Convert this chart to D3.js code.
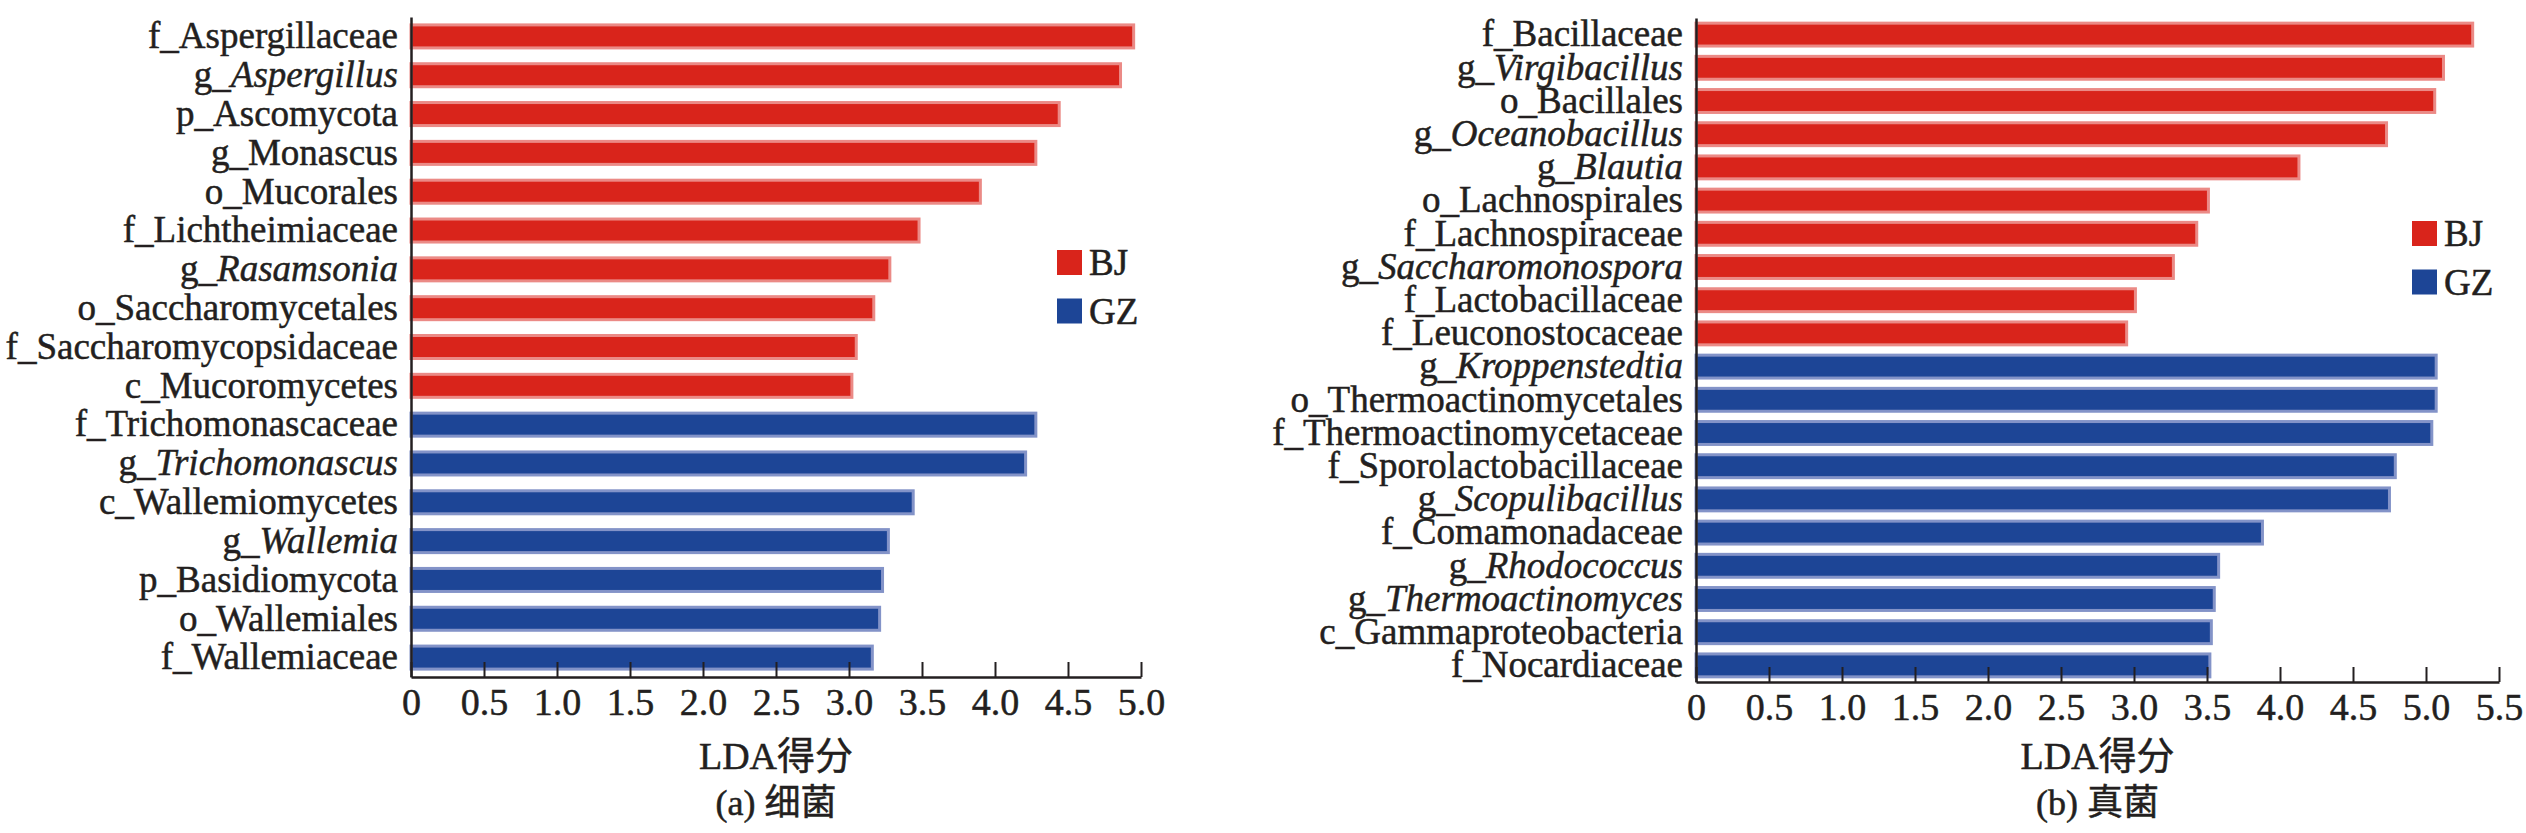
<!DOCTYPE html>
<html>
<head>
<meta charset="utf-8">
<script src="https://cdn.jsdelivr.net/npm/d3@7/dist/d3.min.js"></script>
<style>
  html, body { margin: 0; padding: 0; background: #fff; }
  svg { display: block; }
  svg text { font-family: 'Liberation Serif', 'Tinos', 'Times New Roman', 'DejaVu Serif', 'Noto Sans CJK SC', serif; fill: #231f20; }
</style>
</head>
<body>
<svg id="chart" width="2526" height="833"></svg>
<script>
// ---- Data ----
// Panel (a)
const catsA = ["f_Aspergillaceae","g_Aspergillus","p_Ascomycota","g_Monascus","o_Mucorales","f_Lichtheimiaceae","g_Rasamsonia","o_Saccharomycetales","f_Saccharomycopsidaceae","c_Mucoromycetes","f_Trichomonascaceae","g_Trichomonascus","c_Wallemiomycetes","g_Wallemia","p_Basidiomycota","o_Wallemiales","f_Wallemiaceae"];
const valsA = [4.96, 4.87, 4.45, 4.29, 3.91, 3.49, 3.29, 3.18, 3.06, 3.03, 4.29, 4.22, 3.45, 3.28, 3.24, 3.22, 3.17];
const groupA = ["BJ","BJ","BJ","BJ","BJ","BJ","BJ","BJ","BJ","BJ","GZ","GZ","GZ","GZ","GZ","GZ","GZ"];
const italicA = [false,true,false,false,false,false,true,false,false,false,false,true,false,true,false,false,false];
const ticksA = [0,0.5,1.0,1.5,2.0,2.5,3.0,3.5,4.0,4.5,5.0];

// Panel (b)
const catsB = ["f_Bacillaceae","g_Virgibacillus","o_Bacillales","g_Oceanobacillus","g_Blautia","o_Lachnospirales","f_Lachnospiraceae","g_Saccharomonospora","f_Lactobacillaceae","f_Leuconostocaceae","g_Kroppenstedtia","o_Thermoactinomycetales","f_Thermoactinomycetaceae","f_Sporolactobacillaceae","g_Scopulibacillus","f_Comamonadaceae","g_Rhodococcus","g_Thermoactinomyces","c_Gammaproteobacteria","f_Nocardiaceae"];
const valsB = [5.33, 5.13, 5.07, 4.74, 4.14, 3.52, 3.44, 3.28, 3.02, 2.96, 5.08, 5.08, 5.05, 4.80, 4.76, 3.89, 3.59, 3.56, 3.54, 3.53];
const groupB = ["BJ","BJ","BJ","BJ","BJ","BJ","BJ","BJ","BJ","BJ","GZ","GZ","GZ","GZ","GZ","GZ","GZ","GZ","GZ","GZ"];
const italicB = [false,true,false,true,true,false,false,true,false,false,true,false,false,false,true,false,true,true,false,false];
const ticksB = [0,0.5,1.0,1.5,2.0,2.5,3.0,3.5,4.0,4.5,5.0,5.5];

const groups = ["BJ","GZ"];
const axisTitle = "LDA得分";
const subTitleA = "(a) 细菌";
const subTitleB = "(b) 真菌";

// ---- Styles ----
const FONT = "'Liberation Serif', 'Tinos', 'Times New Roman', 'DejaVu Serif', 'Noto Sans CJK SC', serif";
const INK = "#231f20";
const fillColor = d3.scaleOrdinal().domain(groups).range(["#d9241b", "#1d4596"]);
const edgeColor = d3.scaleOrdinal().domain(groups).range(["#eb8a86", "#8393c8"]);

const svg = d3.select("#chart");

function ink(sel) {
  return sel.style("font-family", FONT).attr("fill", INK)
    .attr("stroke", INK).attr("stroke-width", 0.5);
}

function panel(cfg) {
  const g = svg.append("g");
  const x = d3.scaleLinear().domain(cfg.xDomain).range([cfg.x0, cfg.x1]);
  const y = d3.scaleBand().domain(cfg.cats).range([cfg.y0, cfg.y1])
    .paddingInner(cfg.pad).paddingOuter(cfg.pad / 2);
  const data = cfg.cats.map((c, i) => ({c, v: cfg.vals[i], grp: cfg.group[i], it: cfg.italic[i]}));

  // bars
  g.append("g").selectAll("rect").data(data).join("rect")
    .attr("x", x(0))
    .attr("y", d => y(d.c) + 1.5)
    .attr("width", d => x(d.v) - x(0) - 1.5)
    .attr("height", y.bandwidth() - 3)
    .attr("fill", d => fillColor(d.grp))
    .attr("stroke", d => edgeColor(d.grp))
    .attr("stroke-width", 3);

  // x axis
  const xAxis = d3.axisBottom(x)
    .tickValues(cfg.ticks)
    .tickSizeInner(-15).tickSizeOuter(0).tickPadding(11)
    .tickFormat(d => d === 0 ? "0" : d3.format(".1f")(d));
  const gx = g.append("g").attr("transform", `translate(0,${cfg.y1})`).call(xAxis)
    .attr("font-family", null);
  gx.select(".domain").attr("stroke", INK).attr("stroke-width", 2.5);
  gx.selectAll(".tick line").attr("stroke", INK).attr("stroke-width", 2);
  ink(gx.selectAll(".tick text").attr("font-size", 38));

  // y axis
  const yAxis = d3.axisLeft(y).tickSize(0).tickPadding(13);
  const gy = g.append("g").attr("transform", `translate(${cfg.x0},0)`).call(yAxis)
    .attr("font-family", null);
  gy.select(".domain").attr("stroke", INK).attr("stroke-width", 2.5);
  ink(gy.selectAll(".tick text").attr("font-size", 37))
    .each(function(c) {
      const d = data.find(e => e.c === c);
      const t = d3.select(this);
      if (d.it) {
        t.text(null);
        t.append("tspan").text(c.slice(0, 2));
        t.append("tspan").style("font-style", "italic").text(c.slice(2));
      }
    });

  // axis titles
  const cx = (cfg.x0 + cfg.x1) / 2;
  ink(g.append("text").attr("x", cx).attr("y", cfg.titleY).attr("text-anchor", "middle")
    .attr("font-size", 38)).text(axisTitle);
  ink(g.append("text").attr("x", cx).attr("y", cfg.subY).attr("text-anchor", "middle")
    .attr("font-size", 36)).text(cfg.sub);

  // legend
  const lg = g.append("g");
  groups.forEach((k, i) => {
    lg.append("rect").attr("x", cfg.legX).attr("y", cfg.legY + i * 48.5)
      .attr("width", 25).attr("height", 25).attr("fill", fillColor(k));
    ink(lg.append("text").attr("x", cfg.legX + 32).attr("y", cfg.legY + i * 48.5 + 25)
      .attr("font-size", 37)).text(k);
  });
}

panel({cats: catsA, vals: valsA, group: groupA, italic: italicA, ticks: ticksA,
  xDomain: [0, 5], x0: 411, x1: 1141, y0: 17, y1: 677, pad: 0.33,
  titleY: 769, subY: 815, sub: subTitleA, legX: 1057, legY: 250});

panel({cats: catsB, vals: valsB, group: groupB, italic: italicB, ticks: ticksB,
  xDomain: [0, 5.5], x0: 1696, x1: 2499, y0: 18, y1: 682, pad: 0.22,
  titleY: 769, subY: 815, sub: subTitleB, legX: 2412, legY: 221});
</script>
</body>
</html>
